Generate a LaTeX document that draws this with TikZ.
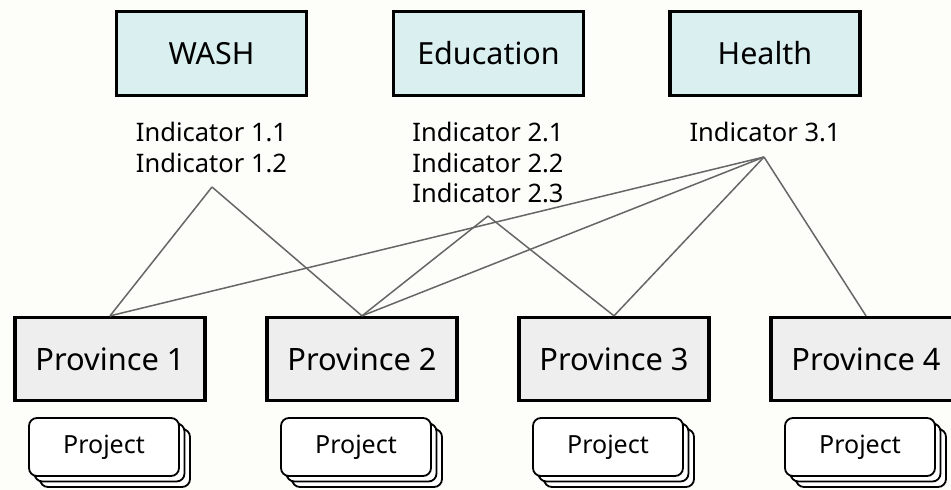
\documentclass[tikz,border=0pt]{standalone}
\usepackage{fontspec}
\setmainfont{Noto Sans}
\usetikzlibrary{shadows}
\definecolor{sectorfill}{HTML}{DAEFF0}
\definecolor{provfill}{HTML}{EEEEEE}
\definecolor{linkgray}{HTML}{666666}
\definecolor{paper}{HTML}{FDFDFA}
\begin{document}
\begin{tikzpicture}[x=1pt,y=-1pt]
  \tikzstyle{sector} = [draw, line width=3.3pt, fill=sectorfill, minimum width=190pt, minimum height=84pt, inner sep=0pt, font=\fontsize{30.5}{36}\selectfont];
  \tikzstyle{province} = [draw, line width=3.3pt, fill=provfill, minimum width=190pt, minimum height=83pt, inner sep=0pt, font=\fontsize{30.8}{36}\selectfont];
  \tikzstyle{indicators} = [align=center, inner sep=0pt, font=\fontsize{25.5}{30.5}\selectfont];
  \tikzstyle{project} = [draw, line width=1.8pt, fill=white, rounded corners=8pt, minimum width=150pt, minimum height=58pt, inner sep=0pt, font=\fontsize{25}{30}\selectfont, double copy shadow={shadow xshift=5.5pt, shadow yshift=-5.5pt, draw, line width=1.8pt, fill=white}];
  \tikzstyle{link} = [draw=linkgray, line width=1.5pt];

  \fill[paper] (0,0) rectangle (951,490);
  \useasboundingbox (0,0) rectangle (951,490);

  \node[sector] (wash) at (211.5,53.5) {WASH};
  \node[sector] (edu) at (488.5,53.5) {Education};
  \node[sector] (health) at (765,53.5) {Health};

  \node[indicators] (ind1) at (211.5,147.5) {Indicator 1.1\\Indicator 1.2};
  \node[indicators] (ind2) at (488,162.5) {Indicator 2.1\\Indicator 2.2\\Indicator 2.3};
  \node[indicators] (ind3) at (765,132) {Indicator 3.1};

  \coordinate (j1) at (212,187);
  \coordinate (j2) at (488,216);
  \coordinate (j3) at (764,157);

  \node[province] (p1) at (110,359) {Province 1};
  \node[province] (p2) at (362,359) {Province 2};
  \node[province] (p3) at (614,359) {Province 3};
  \node[province] (p4) at (866,359) {Province 4};

  \node[project] (pr1) at (104,447) {Project};
  \node[project] (pr2) at (356,447) {Project};
  \node[project] (pr3) at (608,447) {Project};
  \node[project] (pr4) at (860,447) {Project};

  \draw[link] (p1.north) -- (j1);
  \draw[link] (j1) -- (p2.north);
  \draw[link] (p1.north) -- (j3);
  \draw[link] (p2.north) -- (j3);
  \draw[link] (p2.north) -- (j2);
  \draw[link] (j2) -- (p3.north);
  \draw[link] (p3.north) -- (j3);
  \draw[link] (p4.north) -- (j3);

\end{tikzpicture}
\end{document}
